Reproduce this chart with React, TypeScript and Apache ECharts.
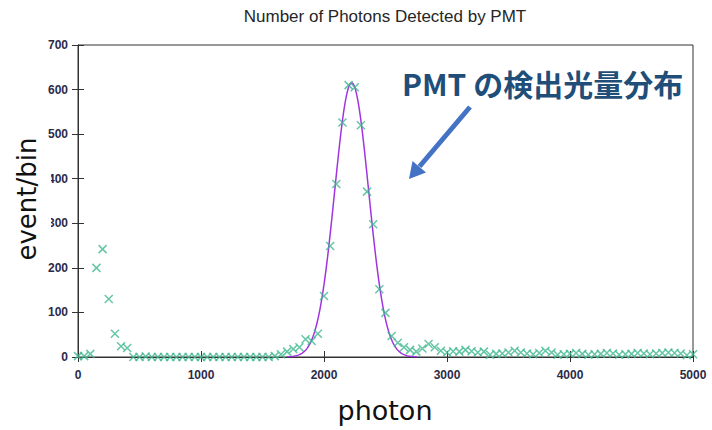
import React, { useEffect, useRef } from "react";
import * as echarts from "echarts";

const titleText = "Number of Photons Detected by PMT";
const xAxisTitle = "photon";
const yAxisTitle = "event/bin";
const annotationText = "PMT の検出光量分布";

const binStart = 0;
const binWidth = 50;
const counts = [
  2, 2, 7, 200, 242, 130, 52, 24, 20,
  0, 0, 1, 0, 0, 0, 0, 0, 0, 0, 0, 0, 0, 0, 0, 0, 0, 0, 0, 0, 0, 0, 0,
  2, 6, 12, 18, 22, 40, 36, 52,
  137, 249, 388, 526, 610, 605, 520, 371, 298, 152, 99, 47,
  32, 22, 16, 12, 19, 29, 22, 14, 10,
  13, 12, 16, 13, 10, 12, 5, 7, 8, 10, 14, 10, 8, 6, 9, 14, 10, 5, 6, 7,
  9, 7, 5, 6, 7, 9, 8, 5, 6, 7, 9, 8, 6, 8, 9, 10, 9, 8, 4, 6,
];

// Gaussian fit parameters
const fitAmplitude = 615;
const fitMean = 2225;
const fitSigma = 138;
const fitFrom = 1700;
const fitTo = 2760;
const fitStep = 5;

const xTicks = [0, 1000, 2000, 3000, 4000, 5000];
const yTicks = [0, 100, 200, 300, 400, 500, 600, 700];

export default function App() {
  const ref = useRef<HTMLDivElement>(null);

  useEffect(() => {
    if (!ref.current) return;
    const chart = echarts.init(ref.current, undefined, { renderer: "svg" });

    const points = counts.map((c, i) => [binStart + i * binWidth, c]);
    const fit: number[][] = [];
    for (let x = fitFrom; x <= fitTo; x += fitStep) {
      fit.push([x, fitAmplitude * Math.exp(-((x - fitMean) ** 2) / (2 * fitSigma * fitSigma))]);
    }

    const tickFont = {
      fontFamily: "Liberation Sans",
      fontWeight: "bold" as const,
      fontSize: 12,
      color: "#2b2b48",
      formatter: (v: number) => String(v),
    };

    chart.setOption({
      animation: false,
      backgroundColor: "#ffffff",
      grid: {
        left: 78,
        right: 19,
        top: 45,
        bottom: 73,
        show: true,
        borderColor: "#333",
        borderWidth: 1,
        backgroundColor: "transparent",
      },
      xAxis: [
        {
          type: "value",
          min: xTicks[0],
          max: xTicks[xTicks.length - 1],
          interval: 1000,
          position: "bottom",
          axisLine: { show: true, lineStyle: { color: "#333", width: 1 } },
          axisTick: { show: true, inside: true, length: 6, lineStyle: { color: "#333" } },
          axisLabel: { ...tickFont, margin: 12 },
          splitLine: { show: false },
        },
        {
          type: "value",
          min: xTicks[0],
          max: xTicks[xTicks.length - 1],
          interval: 1000,
          position: "top",
          axisLine: { show: true, lineStyle: { color: "#333", width: 1 } },
          axisTick: { show: true, inside: true, length: 5, lineStyle: { color: "#333" } },
          axisLabel: { show: false },
          splitLine: { show: false },
        },
      ],
      yAxis: [
        {
          type: "value",
          min: yTicks[0],
          max: yTicks[yTicks.length - 1],
          interval: 100,
          position: "left",
          axisLine: { show: true, lineStyle: { color: "#333", width: 1 } },
          axisTick: { show: true, inside: true, length: 6, lineStyle: { color: "#333" } },
          axisLabel: { ...tickFont, margin: 10 },
          splitLine: { show: false },
        },
        {
          type: "value",
          min: yTicks[0],
          max: yTicks[yTicks.length - 1],
          interval: 100,
          position: "right",
          axisLine: { show: true, lineStyle: { color: "#333", width: 1 } },
          axisTick: { show: true, inside: true, length: 6, lineStyle: { color: "#333" } },
          axisLabel: { show: false },
          splitLine: { show: false },
        },
      ],
      series: [
        {
          type: "line",
          data: fit,
          xAxisIndex: 0,
          yAxisIndex: 0,
          showSymbol: false,
          symbol: "none",
          smooth: false,
          lineStyle: { color: "#a035e0", width: 1.5 },
          z: 2,
        },
        {
          type: "scatter",
          data: points,
          xAxisIndex: 0,
          yAxisIndex: 0,
          symbol: "path://M0,0L10,10M10,0L0,10",
          symbolSize: 8,
          itemStyle: {
            color: "rgba(0,0,0,0)",
            borderColor: "#3fb88f",
            borderWidth: 1.5,
          },
          z: 3,
        },
      ],
      graphic: [
        {
          type: "text",
          z: 100,
          x: 385,
          y: 16,
          style: {
            text: titleText,
            fontFamily: "Liberation Sans",
            fontSize: 17,
            fill: "#262626",
            align: "center",
            verticalAlign: "middle",
          },
        },
        {
          type: "rect",
          z: 99,
          shape: { x: 12, y: 139, width: 39, height: 122 },
          style: { fill: "#ffffff" },
        },
        {
          type: "text",
          z: 100,
          x: 27,
          y: 199,
          rotation: Math.PI / 2,
          style: {
            text: yAxisTitle,
            fontFamily: "DejaVu Sans",
            fontSize: 26,
            fill: "#111",
            align: "center",
            verticalAlign: "middle",
          },
        },
        {
          type: "text",
          z: 100,
          x: 385,
          y: 410,
          style: {
            text: xAxisTitle,
            fontFamily: "DejaVu Sans",
            fontSize: 27,
            fill: "#111",
            align: "center",
            verticalAlign: "middle",
          },
        },
        {
          type: "text",
          z: 100,
          x: 402,
          y: 83,
          style: {
            text: annotationText,
            fontFamily: "Noto Sans CJK JP",
            fontWeight: "bold",
            fontSize: 30,
            fill: "#1f4e79",
            align: "left",
            verticalAlign: "middle",
          },
        },
        {
          type: "line",
          z: 100,
          shape: { x1: 470, y1: 107, x2: 419.5, y2: 166.5 },
          style: { stroke: "#4472c4", lineWidth: 5 },
        },
        {
          type: "polygon",
          z: 100,
          shape: {
            points: [
              [409, 179],
              [426, 172.5],
              [412.5, 161],
            ],
          },
          style: { fill: "#4472c4" },
        },
      ],
    });

    return () => chart.dispose();
  }, []);

  return (
    <div
      ref={ref}
      style={{ position: "fixed", left: 0, top: 0, width: 712, height: 430 }}
    />
  );
}
